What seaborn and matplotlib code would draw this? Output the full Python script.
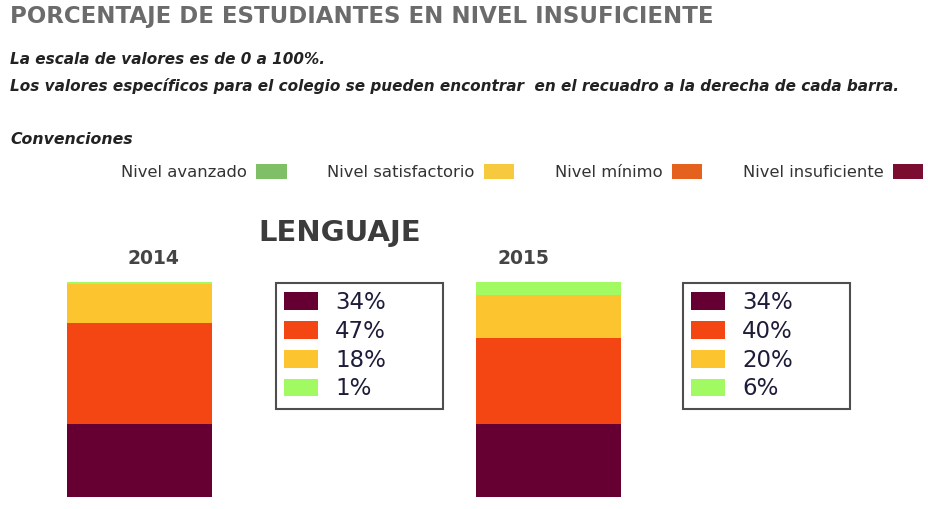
import pandas as pd
import numpy as np
import matplotlib.pyplot as plt
import seaborn as sns
from matplotlib.patches import Patch

# DATA
years = ['2014', '2015']
niveles = ['Nivel insuficiente', 'Nivel mínimo', 'Nivel satisfactorio', 'Nivel avanzado']
insuficiente = [34, 34]
minimo = [47, 40]
satisfactorio = [18, 20]
avanzado = [1, 6]

conv_labels = ['Nivel avanzado', 'Nivel satisfactorio', 'Nivel mínimo', 'Nivel insuficiente']

# colours
bar_colors = {'Nivel insuficiente': '#660033', 'Nivel mínimo': '#F44612',
              'Nivel satisfactorio': '#FCC530', 'Nivel avanzado': '#A2FA62'}
conv_colors = {'Nivel avanzado': '#7FBF66', 'Nivel satisfactorio': '#F7C93E',
               'Nivel mínimo': '#E4621E', 'Nivel insuficiente': '#7B0D30'}

df = pd.DataFrame({'Año': years, 'Nivel insuficiente': insuficiente, 'Nivel mínimo': minimo,
                   'Nivel satisfactorio': satisfactorio, 'Nivel avanzado': avanzado})
# cumulative heights for the stacked look
cum = df[niveles].cumsum(axis=1)
cum['Año'] = df['Año']

sns.set_style('white')
plt.rcParams['font.family'] = ['DejaVu Sans']

fig = plt.figure(figsize=(9.29, 5.09), dpi=100)

# HEADER TEXTS
fig.text(10 / 929, 1 - 17 / 509, 'PORCENTAJE DE ESTUDIANTES EN NIVEL INSUFICIENTE',
         fontsize=16.5, fontweight='bold', color='#6b6b6b', va='center', ha='left')
fig.text(10 / 929, 1 - 59 / 509, 'La escala de valores es de 0 a 100%.',
         fontsize=11, fontweight='bold', style='italic', color='#222222', va='center')
fig.text(10 / 929, 1 - 86 / 509,
         'Los valores específicos para el colegio se pueden encontrar  en el recuadro a la derecha de cada barra.',
         fontsize=11, fontweight='bold', style='italic', color='#222222', va='center')
fig.text(10 / 929, 1 - 139 / 509, 'Convenciones',
         fontsize=11.3, fontweight='bold', style='italic', color='#222222', va='center')

# CONVENTIONS LEGEND
conv_handles = [Patch(facecolor=conv_colors[n], edgecolor='none') for n in conv_labels]
leg0 = fig.legend(conv_handles, conv_labels, ncol=4, markerfirst=False, frameon=False,
                  loc='center left', bbox_to_anchor=(106 / 929, 1 - 172 / 509),
                  fontsize=11.8, handlelength=1.85, handleheight=1.05,
                  handletextpad=0.6, columnspacing=2.45, labelcolor='#333333')

fig.text(340 / 929, 1 - 233 / 509, 'LENGUAJE', fontsize=21, fontweight='bold',
         color='#3c3c3c', ha='center', va='center')
fig.text(153 / 929, 1 - 258 / 509, '2014', fontsize=13.5, fontweight='bold',
         color='#444444', ha='center', va='center')
fig.text(523 / 929, 1 - 258 / 509, '2015', fontsize=13.5, fontweight='bold',
         color='#444444', ha='center', va='center')

# BARS
ax = fig.add_axes([67 / 929, 12 / 509, 554 / 929, 215 / 509])
for n in niveles[::-1]:
    sns.barplot(data=cum, x='Año', y=n, color=bar_colors[n], width=0.355,
                saturation=1, linewidth=0, ax=ax)
ax.set_ylim(0, 100)
ax.set_xlim(-0.1775, 1.1775)
ax.axis('off')

# VALUE BOXES
for i, x0 in enumerate([276, 683]):
    handles = [Patch(facecolor=bar_colors[n], edgecolor='none') for n in niveles]
    labels = [f'{df.loc[i, n]}%' for n in niveles]
    leg = fig.legend(handles, labels, loc='upper left', mode='expand',
                     bbox_to_anchor=(x0 / 929, 1 - 407 / 509, 167 / 929, 124 / 509),
                     fontsize=16.5, frameon=True, fancybox=False, edgecolor='#222222',
                     handlelength=1.48, handleheight=0.83, handletextpad=0.74,
                     labelspacing=0.25, borderpad=0.36, borderaxespad=0,
                     labelcolor='#1d1d3a')
    leg.get_frame().set_linewidth(1.5)

fig.savefig('out.png', dpi=100)
